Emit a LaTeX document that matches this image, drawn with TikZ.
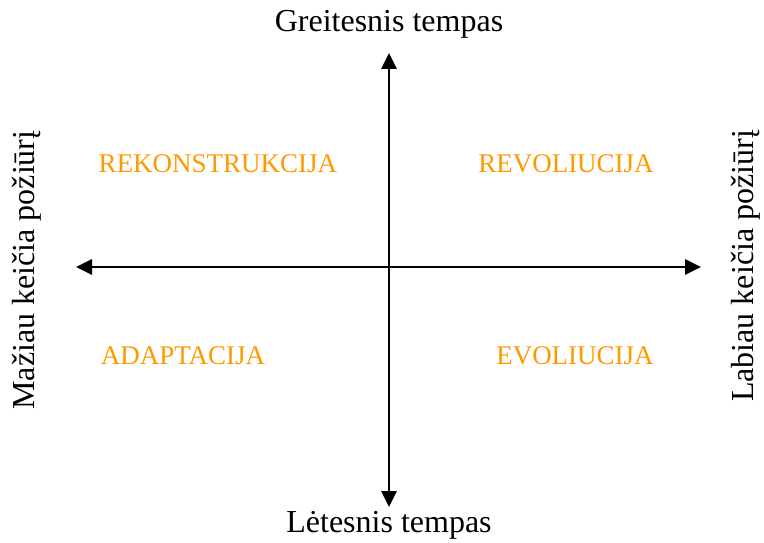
\documentclass[tikz,border=0pt]{standalone}
\usepackage{fontspec}
\setmainfont{Liberation Serif}
\usetikzlibrary{arrows.meta}
\definecolor{quadorange}{RGB}{255,153,0}
\begin{document}
\begin{tikzpicture}[x=1pt,y=-1pt,
  axis/.style={line width=2.8pt,-{Triangle[length=16pt,width=15pt]}},
  axislabel/.style={font=\fontsize{32}{36}\selectfont,inner sep=0pt},
  quad/.style={font=\fontsize{27}{30}\selectfont,text=quadorange,inner sep=0pt}]
\useasboundingbox (0,0) rectangle (764,543);
\coordinate (c) at (389,267);
\coordinate (top) at (389,53);
\coordinate (bot) at (389,507);
\coordinate (lft) at (76,267);
\coordinate (rgt) at (701,267);
\draw[axis] (c) -- (top);
\draw[axis] (c) -- (bot);
\draw[axis] (c) -- (lft);
\draw[axis] (c) -- (rgt);
\node[axislabel] (tl) at (389,24) {Greitesnis tempas};
\node[axislabel] (bl) at (389,525) {Lėtesnis tempas};
\node[axislabel,rotate=90] (ll) at (27,270) {Mažiau keičia požiūrį};
\node[axislabel,rotate=90] (rl) at (746,266) {Labiau keičia požiūrį};
\node[quad] (q1) at (218,164) {REKONSTRUKCIJA};
\node[quad] (q2) at (566,164) {REVOLIUCIJA};
\node[quad] (q3) at (183,356) {ADAPTACIJA};
\node[quad] (q4) at (575,356) {EVOLIUCIJA};
\end{tikzpicture}
\end{document}
